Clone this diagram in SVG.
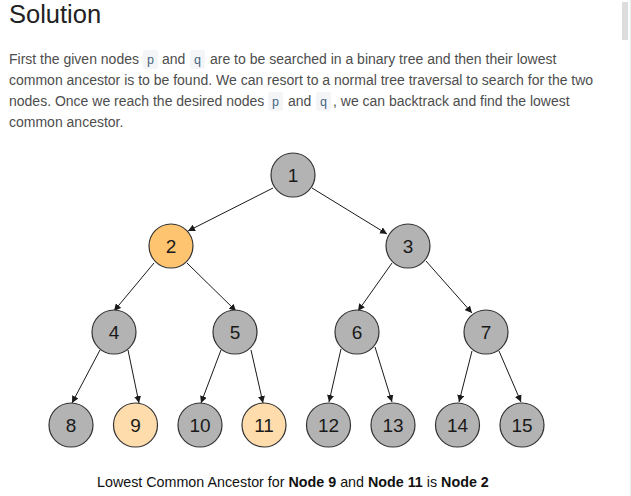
<svg xmlns="http://www.w3.org/2000/svg" width="631" height="496" viewBox="0 0 631 496">
<defs>
<marker id="ah" viewBox="0 0 10 10" refX="10" refY="5" markerWidth="7" markerHeight="7" markerUnits="userSpaceOnUse" orient="auto">
<path d="M0,0 L10,5 L0,10 z" fill="#1a1a1a"/>
</marker>
</defs>
<style>
.t{font-family:"Liberation Sans",Arial,sans-serif;font-size:14px;fill:#4d4d4d}
.c{font-family:"Liberation Mono","DejaVu Sans Mono",monospace;font-size:12.5px;fill:#476582}
.cb{fill:#f3f5f7}
.n circle{stroke:#333;stroke-width:1.2}
.g{fill:#b3b3b3}
.o{fill:#ffc470}
.y{fill:#ffdcab}
.n text{font-family:"Liberation Sans",Arial,sans-serif;font-size:19px;fill:#1a1a1a;text-anchor:middle}
.e line{stroke:#1a1a1a;stroke-width:1;marker-end:url(#ah)}
.cap{font-family:"Liberation Sans",Arial,sans-serif;font-size:14.3px;fill:#111}
</style>
<rect width="631" height="496" fill="#fff"/>
<rect x="622" y="2" width="6" height="38" fill="#dcdcdc"/>
<line x1="630.5" y1="0" x2="630.5" y2="496" stroke="#eeeeee"/>
<text x="9" y="23" font-family="Liberation Sans,Arial,sans-serif" font-size="25.5" fill="#222">Solution</text>
<g id="para">
<rect class="cb" x="143" y="50" width="15" height="19" rx="3"/>
<rect class="cb" x="190" y="50" width="15" height="19" rx="3"/>
<rect class="cb" x="268" y="92" width="15" height="19" rx="3"/>
<rect class="cb" x="316" y="92" width="15" height="19" rx="3"/>
<text class="t" x="9" y="64">First the given nodes</text>
<text class="c" x="150.5" y="64" text-anchor="middle">p</text>
<text class="t" x="162" y="64">and</text>
<text class="c" x="197.5" y="64" text-anchor="middle">q</text>
<text class="t" x="210" y="64">are to be searched in a binary tree and then their lowest</text>
<text class="t" x="9" y="85">common ancestor is to be found. We can resort to a normal tree traversal to search for the two</text>
<text class="t" x="9" y="106">nodes. Once we reach the desired nodes</text>
<text class="c" x="275.5" y="106" text-anchor="middle">p</text>
<text class="t" x="288" y="106">and</text>
<text class="c" x="323.5" y="106" text-anchor="middle">q</text>
<text class="t" x="333" y="106">, we can backtrack and find the lowest</text>
<text class="t" x="9" y="127">common ancestor.</text>
</g>
<g id="edges" class="e">
<line x1="273" y1="188" x2="188" y2="231"/>
<line x1="312" y1="188" x2="387" y2="234"/>
<line x1="154" y1="263" x2="114" y2="311"/>
<line x1="187" y1="263" x2="236" y2="311"/>
<line x1="392" y1="263" x2="358" y2="311"/>
<line x1="426" y1="261" x2="472" y2="313"/>
<line x1="100" y1="350" x2="72" y2="403"/>
<line x1="128" y1="350" x2="139" y2="403"/>
<line x1="221" y1="350" x2="201" y2="403"/>
<line x1="251" y1="350" x2="263" y2="403"/>
<line x1="341" y1="349" x2="329" y2="402"/>
<line x1="375" y1="347" x2="392" y2="402"/>
<line x1="472" y1="351" x2="459" y2="402"/>
<line x1="499" y1="351" x2="521" y2="402"/>
</g>
<g id="n1" class="n"><circle class="g" cx="293" cy="175" r="22"/><text x="293" y="182">1</text></g>
<g id="n2" class="n"><circle class="o" cx="171" cy="246" r="22"/><text x="171" y="253">2</text></g>
<g id="n3" class="n"><circle class="g" cx="408" cy="246" r="22"/><text x="408" y="253">3</text></g>
<g id="n4" class="n"><circle class="g" cx="114" cy="332" r="22"/><text x="114" y="339">4</text></g>
<g id="n5" class="n"><circle class="g" cx="235" cy="332" r="22"/><text x="235" y="339">5</text></g>
<g id="n6" class="n"><circle class="g" cx="357" cy="332" r="22"/><text x="357" y="339">6</text></g>
<g id="n7" class="n"><circle class="g" cx="486" cy="332" r="22"/><text x="486" y="339">7</text></g>
<g id="n8" class="n"><circle class="g" cx="71" cy="425" r="22"/><text x="71" y="432">8</text></g>
<g id="n9" class="n"><circle class="y" cx="135.5" cy="425" r="22"/><text x="135.5" y="432">9</text></g>
<g id="n10" class="n"><circle class="g" cx="200" cy="425" r="22"/><text x="200" y="432">10</text></g>
<g id="n11" class="n"><circle class="y" cx="264" cy="425" r="22"/><text x="264" y="432">11</text></g>
<g id="n12" class="n"><circle class="g" cx="328.5" cy="425" r="22"/><text x="328.5" y="432">12</text></g>
<g id="n13" class="n"><circle class="g" cx="393" cy="425" r="22"/><text x="393" y="432">13</text></g>
<g id="n14" class="n"><circle class="g" cx="457.5" cy="425" r="22"/><text x="457.5" y="432">14</text></g>
<g id="n15" class="n"><circle class="g" cx="522" cy="425" r="22"/><text x="522" y="432">15</text></g>
<text class="cap" x="97" y="487">Lowest Common Ancestor for <tspan font-weight="bold">Node 9</tspan> and <tspan font-weight="bold">Node 11</tspan> is <tspan font-weight="bold">Node 2</tspan></text>
</svg>
